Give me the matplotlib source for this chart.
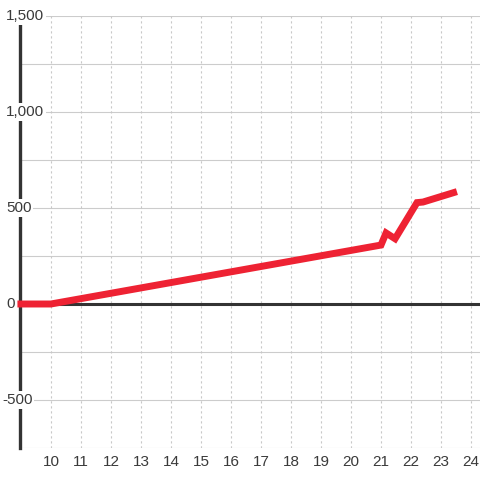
import numpy as np
import matplotlib.pyplot as plt
import matplotlib.transforms as mtransforms

plt.rcParams['font.family'] = ['Liberation Sans', 'DejaVu Sans']

# series
x_vals = [9, 10, 21, 21.17, 21.47, 22.2, 22.4, 23.42]
y_vals = [0, 0, 307, 370, 340, 528, 531, 580]

x_ticks = list(range(10, 25))
y_ticks = [1500, 1000, 500, 0, -500]
y_grid = list(range(-750, 1501, 250))

fig = plt.figure(figsize=(4.8, 4.8), dpi=100)
ax = fig.add_axes([20 / 480, 32 / 480, 460 / 480, 432 / 480])

ax.set_xlim(8.97, 24.3)
ax.set_ylim(-750, 1500)

# grid
for g in y_grid:
    ax.axhline(g, color='#cccccc', lw=0.8, zorder=1)
for t in x_ticks:
    ax.axvline(t, color='#c8c8c8', lw=0.8, ls=(0, (2, 2.5)), zorder=1)
ax.axhline(0, color='#333333', lw=2.2, zorder=2)

for s in ['top', 'right', 'bottom']:
    ax.spines[s].set_visible(False)
ax.spines['left'].set_color('#333333')
ax.spines['left'].set_linewidth(2.4)

ax.plot(x_vals, y_vals, color='#ee2233', lw=5, solid_capstyle='projecting',
        solid_joinstyle='miter', zorder=6, clip_on=False)

ax.set_yticks([])
ax.set_xticks(x_ticks)
ax.set_xticklabels([str(t) for t in x_ticks], color='#3a3a3a', fontsize=11)
ax.tick_params(axis='x', length=0, pad=5)

# y labels sit on top of the axis line, left aligned
trans = mtransforms.blended_transform_factory(fig.transFigure, ax.transData)
for v in y_ticks:
    xpos = 2 / 480 if v < 0 else 6 / 480
    ax.text(xpos, v, f'{v:,}', transform=trans, ha='left', va='center',
            fontsize=11, color='#3a3a3a', clip_on=False, zorder=5,
            bbox=dict(facecolor='white', edgecolor='none', pad=1.2))

fig.savefig('out.png', dpi=100)
